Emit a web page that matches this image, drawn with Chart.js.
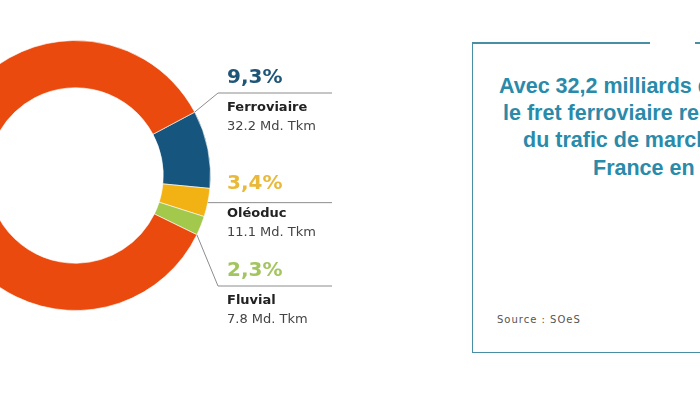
<!DOCTYPE html>
<html>
<head>
<meta charset="utf-8">
<script src="https://cdn.jsdelivr.net/npm/chart.js@4"></script>
<style>
  html, body { margin: 0; padding: 0; background: #fff; overflow: hidden; }
  body { width: 700px; height: 394px; position: relative; }
  #wrap { position: absolute; left: -80px; top: 0; width: 440px; height: 394px; }
  /* encadré de droite */
  .box { position: absolute; left: 472px; top: 42px; width: 320px; height: 310px;
         border-left: 1.5px solid #4a8ea5; border-bottom: 1.5px solid #4a8ea5; }
  .topline { position: absolute; top: 42px; height: 1.5px; background: #4a8ea5; }
  .msg { position: absolute; font-family: "Liberation Sans", Arial, sans-serif; font-weight: bold;
         font-size: 21.5px; color: #2a8aaa; white-space: nowrap; }
  .src { position: absolute; left: 497px; top: 314px; font-family: "DejaVu Sans", sans-serif;
         font-size: 10px; letter-spacing: 1px; color: #555; }
</style>
</head>
<body>
<div id="wrap"><canvas id="fret" width="440" height="394"></canvas></div>

<div class="box"></div>
<div class="topline" style="left:472px; width:178px;"></div>
<div class="topline" style="left:695px; width:10px;"></div>
<div class="msg" style="left:499px; top:74px;">Avec 32,2 milliards de tonnes-km,</div>
<div class="msg" style="left:503px; top:101px;">le fret ferroviaire représente 9,3%</div>
<div class="msg" style="left:523px; top:128px;">du trafic de marchandises en</div>
<div class="msg" style="left:593px; top:156px;">France en 2015</div>
<div class="src">Source : SOeS</div>

<script>
// Données - parts modales du transport de marchandises
var modes = ['Ferroviaire', 'Oléoduc', 'Fluvial', 'Routier'];
var parts = [9.3, 3.4, 2.3, 85.0];
var partsTexte = ['9,3%', '3,4%', '2,3%', ''];
var volumes = ['32.2 Md. Tkm', '11.1 Md. Tkm', '7.8 Md. Tkm', ''];
var couleurs = ['#16567e', '#f3b214', '#a2c84c', '#ea4a0e'];
var couleursTexte = ['#1f5577', '#e9b93a', '#a3c55f', ''];

var SHIFT = 80; // le canvas commence à x = -80 dans la page

// Étiquettes avec traits de rappel
var etiquettes = {
  id: 'etiquettes',
  afterDraw: function (chart) {
    var ctx = chart.ctx;
    var arcs = chart.getDatasetMeta(0).data;
    var xTexte = 227 + SHIFT;
    var xFin = 332 + SHIFT;
    // ancrage : début, milieu, fin du segment
    var ancre = ['start', 'mid', 'end'];
    var coude = [93, null, 286];
    var yPct = [83, 189, 276];

    ctx.save();
    for (var i = 0; i < 3; i++) {
      var a = arcs[i];
      var ang = ancre[i] === 'start' ? a.startAngle : (ancre[i] === 'end' ? a.endAngle : (a.startAngle + a.endAngle) / 2);
      var px = a.x + Math.cos(ang) * a.outerRadius;
      var py = a.y + Math.sin(ang) * a.outerRadius;

      ctx.strokeStyle = '#8c8c8c';
      ctx.lineWidth = 1;
      ctx.beginPath();
      ctx.moveTo(px, py);
      if (coude[i] !== null) {
        ctx.lineTo(xTexte - 9, coude[i]);
        ctx.lineTo(xFin, coude[i]);
      } else {
        ctx.lineTo(xFin, py);
      }
      ctx.stroke();

      ctx.textAlign = 'left';
      ctx.textBaseline = 'alphabetic';
      ctx.fillStyle = couleursTexte[i];
      ctx.font = 'bold 20px "DejaVu Sans"';
      ctx.fillText(partsTexte[i], xTexte, yPct[i]);

      ctx.fillStyle = '#222';
      ctx.font = 'bold 13px "DejaVu Sans"';
      ctx.fillText(modes[i], xTexte, yPct[i] + 28);

      ctx.fillStyle = '#444';
      ctx.font = '13px "DejaVu Sans"';
      ctx.fillText(volumes[i], xTexte, yPct[i] + 47);
    }
    ctx.restore();
  }
};

var ctx = document.getElementById('fret').getContext('2d');
var graphique = new Chart(ctx, {
  type: 'doughnut',
  data: {
    labels: modes,
    datasets: [{
      data: parts,
      backgroundColor: couleurs,
      borderColor: 'rgba(255,255,255,0.6)',
      borderWidth: 1
    }]
  },
  options: {
    responsive: false,
    animation: false,
    rotation: 62,
    cutout: '65%',
    layout: {
      padding: { left: 20, top: 40, right: 149, bottom: 83 }
    },
    plugins: {
      legend: { display: false },
      tooltip: { enabled: false }
    }
  },
  plugins: [etiquettes]
});
</script>
</body>
</html>
